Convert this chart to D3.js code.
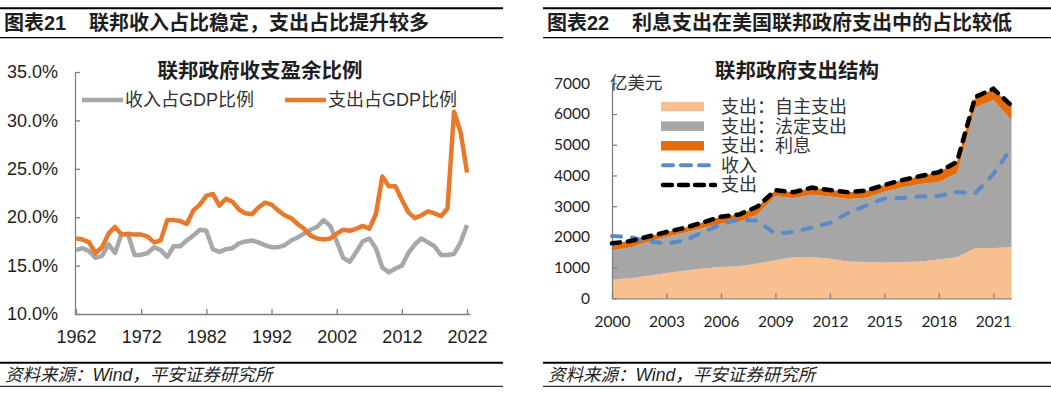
<!DOCTYPE html>
<html>
<head>
<meta charset="utf-8">
<script src="https://cdn.jsdelivr.net/npm/d3@7"></script>
<style>
  body { margin: 0; background: #fff; }
  svg { display: block; }
</style>
</head>
<body>
<div id="container"></div>
<script>
// 图表21 数据：收入 / 支出占GDP比例（%）
var years21 = d3.range(1962, 2023);
var revenueRatio = [
  16.6, 16.8, 16.5, 15.8, 16.0, 17.2, 16.3, 18.3, 18.2, 16.1,
  16.1, 16.3, 16.9, 16.6, 15.9, 17.0, 17.0, 17.6, 18.1, 18.7,
  18.6, 16.7, 16.4, 16.7, 16.8, 17.3, 17.5, 17.6, 17.4, 17.1,
  16.9, 16.9, 17.1, 17.6, 17.9, 18.3, 18.7, 19.0, 19.7, 19.1,
  17.5, 15.8, 15.4, 16.4, 17.5, 17.8, 16.8, 14.8, 14.3, 14.7,
  15.0, 16.3, 17.2, 17.8, 17.4, 17.0, 16.1, 16.1, 16.2, 17.4,
  19.2
];
var outlayRatio = [
  17.8, 17.7, 17.4, 16.3, 16.9, 18.3, 19.0, 18.2, 18.3, 18.2,
  18.2, 18.0, 17.4, 17.6, 19.7, 19.7, 19.6, 19.3, 20.7, 21.3,
  22.2, 22.4, 21.2, 21.9, 21.6, 20.8, 20.4, 20.3, 21.0, 21.5,
  21.3, 20.7, 20.2, 19.9, 19.3, 18.8, 18.1, 17.8, 17.7, 17.8,
  18.3, 18.7, 18.6, 18.8, 19.1, 18.8, 20.3, 24.2, 23.2, 23.2,
  21.8, 20.5, 19.9, 20.2, 20.6, 20.4, 20.1, 20.9, 30.9, 28.8,
  24.6
];
var yTicks21 = [10, 15, 20, 25, 30, 35];
var xTicks21 = [1962, 1972, 1982, 1992, 2002, 2012, 2022];

// 图表22 数据：联邦政府支出结构（亿美元）
var years22 = d3.range(2000, 2023);
var discretionary = [614, 649, 734, 825, 895, 968, 1016, 1041, 1135, 1237, 1347, 1346,
  1285, 1202, 1179, 1168, 1185, 1200, 1262, 1338, 1628, 1636, 1662];
var mandatory = [951, 1008, 1106, 1182, 1238, 1320, 1412, 1450, 1595, 2093, 1913, 2026,
  2030, 2032, 2096, 2300, 2429, 2519, 2522, 2735, 4577, 4822, 4136];
var interest = [223, 206, 171, 153, 160, 184, 227, 237, 253, 187, 196, 230,
  220, 221, 229, 223, 240, 263, 325, 375, 345, 352, 475];
var receipts = [2025, 1991, 1853, 1782, 1880, 2153, 2406, 2568, 2524, 2105, 2163, 2303,
  2450, 2775, 3021, 3250, 3268, 3316, 3330, 3463, 3421, 4047, 4897];
var outlays = [1789, 1863, 2011, 2160, 2293, 2472, 2655, 2729, 2983, 3518, 3457, 3603,
  3527, 3455, 3506, 3692, 3853, 3982, 4109, 4447, 6550, 6822, 6272];
var yTicks22 = [0, 1000, 2000, 3000, 4000, 5000, 6000, 7000];
var xTicks22 = [2000, 2003, 2006, 2009, 2012, 2015, 2018, 2021];

var cnFont = "'Liberation Sans', Arial, 'Noto Sans CJK SC', sans-serif";
var numFont = "Lato, 'Noto Sans CJK SC', sans-serif";
var axisColor = "#808080";
var textColor = "#1e1e1e";

var svg = d3.select("#container")
            .append("svg")
            .attr("width", 1051)
            .attr("height", 393);

// 页眉与页脚（两栏）
function frame(x0, x1, label, title) {
  var g = svg.append("g");
  g.append("line").attr("x1", x0).attr("x2", x1).attr("y1", 8.3).attr("y2", 8.3)
   .attr("stroke", "#000").attr("stroke-width", 2);
  g.append("line").attr("x1", x0).attr("x2", x1).attr("y1", 37.7).attr("y2", 37.7)
   .attr("stroke", "#000").attr("stroke-width", 1.3);
  g.append("text").attr("x", x0 + 4).attr("y", 30)
   .attr("font-family", cnFont).attr("font-weight", "bold").attr("font-size", 20)
   .attr("fill", textColor).text(label);
  g.append("text").attr("x", x0 + 89).attr("y", 30)
   .attr("font-family", cnFont).attr("font-weight", "bold").attr("font-size", 20)
   .attr("fill", textColor).text(title);
  g.append("line").attr("x1", x0).attr("x2", x1).attr("y1", 362.7).attr("y2", 362.7)
   .attr("stroke", "#000").attr("stroke-width", 2);
  g.append("line").attr("x1", x0).attr("x2", x1).attr("y1", 386.3).attr("y2", 386.3)
   .attr("stroke", "#000").attr("stroke-width", 1);
  g.append("text").attr("x", x0 + 5).attr("y", 381)
   .attr("font-family", cnFont).attr("font-style", "italic").attr("font-size", 17.5)
   .attr("fill", textColor).text("资料来源：Wind，平安证券研究所");
}
frame(0, 503, "图表21", "联邦收入占比稳定，支出占比提升较多");
frame(543, 1051, "图表22", "利息支出在美国联邦政府支出中的占比较低");

function styleAxis(g, font, size) {
  g.select(".domain").attr("stroke", axisColor).attr("stroke-width", 1.3);
  g.selectAll(".tick line").attr("stroke", axisColor).attr("stroke-width", 1.3);
  g.selectAll(".tick text").attr("font-family", font).attr("font-size", size)
   .attr("fill", textColor);
}

// ---------------- 图表21 ----------------
var x21 = d3.scaleLinear().domain([1961.85, 2022.45]).range([75, 470]);
var y21 = d3.scaleLinear().domain([10, 35]).range([314, 72]);

var left = svg.append("g");
left.append("g")
    .attr("transform", "translate(75,0)")
    .call(d3.axisLeft(y21).tickValues(yTicks21).tickSize(-5).tickSizeOuter(0)
            .tickPadding(17).tickFormat(function(d) { return d3.format(".1f")(d) + "%"; }))
    .call(styleAxis, "'Liberation Sans', Arial, sans-serif", 18);
left.append("g")
    .attr("transform", "translate(0,314)")
    .call(d3.axisBottom(x21).tickValues(xTicks21).tickSize(-5).tickSizeOuter(0)
            .tickPadding(16).tickFormat(d3.format("d")))
    .call(styleAxis, "'Liberation Sans', Arial, sans-serif", 18);

var series21 = [
  {name: "收入占GDP比例", values: revenueRatio, color: "#A8A8A8"},
  {name: "支出占GDP比例", values: outlayRatio, color: "#E8782A"}
];
var line21 = d3.line()
               .x(function(d, i) { return x21(years21[i]); })
               .y(function(d) { return y21(d); });
left.selectAll(".line21")
    .data(series21).enter()
    .append("path").attr("class", "line21")
    .attr("d", function(d) { return line21(d.values); })
    .attr("fill", "none")
    .attr("stroke", function(d) { return d.color; })
    .attr("stroke-width", 4.5)
    .attr("stroke-linejoin", "round");

left.append("text").attr("x", 260).attr("y", 78).attr("text-anchor", "middle")
    .attr("font-family", cnFont).attr("font-weight", "bold").attr("font-size", 20.5)
    .attr("fill", textColor).text("联邦政府收支盈余比例");

// 图例
var legend21 = left.selectAll(".leg21")
    .data(series21).enter()
    .append("g").attr("class", "leg21")
    .attr("transform", function(d, i) { return "translate(" + (i === 0 ? 82 : 285) + ",100)"; });
legend21.append("line").attr("x1", 0).attr("x2", 41)
        .attr("stroke", function(d) { return d.color; }).attr("stroke-width", 4.5);
legend21.append("text").attr("x", 43).attr("dy", "0.36em")
        .attr("font-family", cnFont).attr("font-size", 18).attr("fill", "#333")
        .text(function(d) { return d.name; });

// ---------------- 图表22 ----------------
var x22 = d3.scaleLinear().domain([2000, 2022]).range([612, 1011.5]);
var y22 = d3.scaleLinear().domain([0, 7000]).range([298.3, 83.3]);

var right = svg.append("g");

var table22 = years22.map(function(y, i) {
  return {year: y, disc: discretionary[i], mand: mandatory[i], intr: interest[i]};
});
var stack = d3.stack().keys(["disc", "mand", "intr"]);
var layers = stack(table22);
var areaColors = {disc: "#F8BF8F", mand: "#A6A6A6", intr: "#E46C0A"};
var area22 = d3.area()
               .x(function(d) { return x22(d.data.year); })
               .y0(function(d) { return y22(d[0]); })
               .y1(function(d) { return y22(d[1]); });
right.selectAll(".layer")
     .data(layers).enter()
     .append("path").attr("class", "layer")
     .attr("d", area22)
     .attr("fill", function(d) { return areaColors[d.key]; });

right.append("g")
     .attr("transform", "translate(612,0)")
     .call(d3.axisLeft(y22).tickValues(yTicks22).tickSize(-5).tickSizeOuter(0)
             .tickPadding(22).tickFormat(d3.format("d")))
     .call(styleAxis, numFont, 15.5);
right.append("g")
     .attr("transform", "translate(0,298.3)")
     .call(d3.axisBottom(x22).tickValues(xTicks22).tickSize(-5).tickSizeOuter(0)
             .tickPadding(18).tickFormat(d3.format("d")))
     .call(styleAxis, numFont, 15.5);

var line22 = d3.line()
               .x(function(d, i) { return x22(years22[i]); })
               .y(function(d) { return y22(d); });
right.append("path").attr("d", line22(receipts))
     .attr("fill", "none").attr("stroke", "#5B8BC7").attr("stroke-width", 4)
     .attr("stroke-dasharray", "9,11").attr("stroke-linecap", "round");
right.append("path").attr("d", line22(outlays))
     .attr("fill", "none").attr("stroke", "#000").attr("stroke-width", 4.5)
     .attr("stroke-dasharray", "8,8").attr("stroke-linecap", "round");

right.append("text").attr("x", 797).attr("y", 78).attr("text-anchor", "middle")
     .attr("font-family", cnFont).attr("font-weight", "bold").attr("font-size", 20.5)
     .attr("fill", textColor).text("联邦政府支出结构");
right.append("text").attr("x", 610).attr("y", 83).attr("dy", "0.36em")
     .attr("font-family", cnFont).attr("font-size", 17.5)
     .attr("fill", "#333").text("亿美元");

// 图例
var legendItems22 = [
  {name: "支出：自主支出", type: "rect", color: "#F8BF8F"},
  {name: "支出：法定支出", type: "rect", color: "#A6A6A6"},
  {name: "支出：利息", type: "rect", color: "#E46C0A"},
  {name: "收入", type: "dash", color: "#5B8BC7"},
  {name: "支出", type: "dash", color: "#000"}
];
var legend22 = right.selectAll(".leg22")
    .data(legendItems22).enter()
    .append("g").attr("class", "leg22")
    .attr("transform", function(d, i) { return "translate(661," + (106.5 + i * 19.6) + ")"; });
legend22.filter(function(d) { return d.type === "rect"; })
        .append("rect").attr("x", 0).attr("y", -4.7).attr("width", 43).attr("height", 9.5)
        .attr("fill", function(d) { return d.color; });
legend22.filter(function(d) { return d.type === "dash"; })
        .append("line").attr("x1", 2).attr("x2", 54)
        .attr("stroke", function(d) { return d.color; })
        .attr("stroke-width", function(d) { return d.color === "#000" ? 4.5 : 4; })
        .attr("stroke-dasharray", function(d) { return d.color === "#000" ? "9,7" : "10,8"; })
        .attr("stroke-linecap", "round");
legend22.append("text").attr("x", 60).attr("dy", "0.36em")
        .attr("font-family", cnFont).attr("font-size", 18).attr("fill", "#333")
        .text(function(d) { return d.name; });
</script>
</body>
</html>
